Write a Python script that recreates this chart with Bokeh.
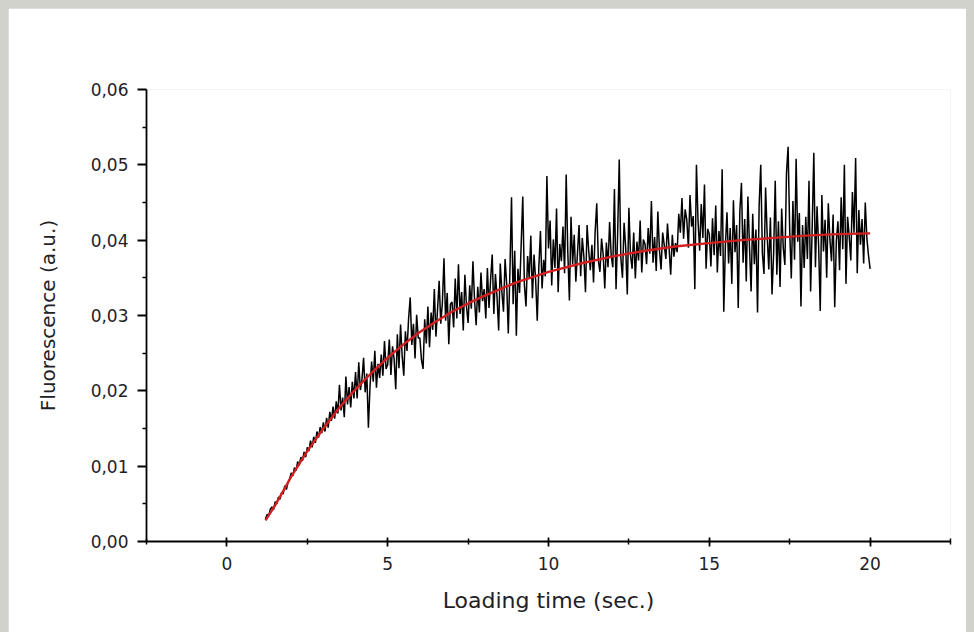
import numpy as np
from bokeh.plotting import figure
from bokeh.layouts import column
from bokeh.models import FixedTicker, Range1d
from bokeh.embed import file_html
from bokeh.resources import INLINE

# ---- data (fluorescence in units of 1e-3 a.u.) ----
t_start = 1.2      # s, first sample
t_step = 0.05      # s, sampling interval
fluorescence_milli = [
    3.0, 3.6, 3.4, 4.3, 4.6, 4.2, 5.3, 5.0, 5.9, 5.6, 6.5, 6.3, 7.4, 6.9, 7.9, 8.3,
    9.1, 8.7, 9.8, 9.4, 10.6, 10.1, 11.2, 10.7, 11.9, 11.2, 12.5, 12.0, 13.4, 12.5, 13.9, 13.1, 14.6, 13.8, 15.2, 14.4,
    15.8, 14.6, 16.4, 15.1, 17.2, 16.0, 17.9, 16.3, 18.6, 17.0, 20.8, 17.4, 19.1, 16.5, 21.9, 18.2, 20.5, 17.8, 21.2, 19.0,
    22.5, 19.0, 23.8, 20.1, 21.5, 24.4, 19.8, 22.3, 15.1, 20.6, 23.9, 21.2, 25.3, 20.4, 23.6, 21.7, 24.8, 22.0, 26.6, 22.9,
    23.5, 26.8, 22.1, 25.9, 24.2, 20.2, 27.5, 23.0, 28.8, 24.6, 22.0, 27.9, 25.3, 29.6, 32.4, 26.1, 28.9, 24.3, 30.1, 27.0,
    27.0, 24.1, 22.9, 29.5, 26.3, 31.2, 25.8, 30.4, 28.1, 33.5, 27.2, 30.8, 34.6, 28.9, 31.7, 37.6, 29.3, 33.0, 26.2, 31.5,
    31.8, 28.4, 34.9, 29.6, 36.8, 30.2, 33.1, 28.0, 35.4, 31.2, 29.0, 34.0, 30.9, 37.2, 32.1, 28.7, 33.8, 30.4, 35.7, 31.9,
    33.5, 29.6, 36.3, 31.0, 34.8, 38.1, 30.2, 35.5, 32.4, 28.0, 36.9, 33.2, 30.5, 37.5, 34.1, 27.6, 35.8, 45.7, 31.5, 38.6,
    27.3, 36.2, 33.0, 39.4, 45.8, 34.1, 31.2, 37.9, 35.0, 40.6, 32.3, 38.1, 34.7, 29.3, 36.5, 41.2, 33.6, 37.4, 35.2, 48.5,
    38.9, 42.6, 34.0, 40.1, 36.3, 44.2, 33.1, 39.5, 37.2, 41.8, 35.6, 48.7, 38.4, 32.0, 43.1, 36.8, 40.7, 34.5, 38.2, 42.0,
    35.2, 40.3, 37.8, 33.1, 42.0, 38.6, 36.0, 39.4, 34.4, 41.1, 44.9, 37.3, 35.8, 40.2, 38.1, 33.6, 39.7, 36.4, 42.4, 37.9,
    36.4, 46.8, 33.5, 40.9, 50.7, 37.6, 35.0, 42.3, 39.1, 32.8, 44.3, 38.0, 36.2, 41.0, 34.9, 39.8, 37.3, 42.6, 35.7, 40.1,
    39.5, 36.8, 41.6, 38.2, 45.2, 37.0, 40.4, 35.9, 43.8, 38.7, 36.1, 41.0, 39.3, 37.5, 42.2, 38.9, 35.4, 40.7, 37.8, 39.6,
    38.4, 43.5, 41.0, 45.6, 40.2, 44.1, 42.7, 39.0, 46.0, 41.8, 43.2, 33.5, 50.0, 42.5, 38.6, 44.8, 40.3, 47.4, 36.2, 41.5,
    40.8, 36.5, 42.9, 38.0, 44.6, 35.7, 41.2, 37.9, 49.4, 30.5, 39.3, 43.7, 36.9, 41.6, 34.2, 45.3, 38.4, 42.0, 31.0, 43.9,
    47.6, 37.0, 42.8, 34.5, 45.8, 39.1, 33.2, 43.5, 36.8, 41.4, 30.4, 44.7, 50.0, 38.3, 35.5, 47.0, 40.6, 36.1, 43.0, 32.8,
    38.2, 47.9, 35.4, 42.5, 33.8, 44.2, 39.0, 36.7, 48.9, 52.4, 41.3, 34.9, 45.2, 37.4, 50.8, 39.8, 43.6, 31.2, 42.0, 36.3,
    43.1, 37.5, 47.9, 33.2, 41.8, 51.6, 36.4, 44.5, 39.2, 30.6, 46.0, 38.5, 42.7, 35.0, 44.9, 40.1, 37.2, 43.4, 31.1, 39.9,
    42.5, 36.0, 45.7, 38.8, 50.0, 34.2, 43.1, 40.5, 37.3, 46.4, 41.0, 50.9, 35.6, 44.0, 39.4, 42.8, 36.9, 45.0, 40.2, 38.0, 36.2,
]

fit_time = [1.2, 1.5, 2, 2.5, 3, 3.5, 4, 4.5, 5, 5.5, 6, 6.5, 7, 7.5, 8, 8.5, 9, 9.5,
            10, 11, 12, 13, 14, 15, 16, 17, 18, 19, 20]
fit_milli = [2.8, 4.8, 8.6, 12.0, 15.0, 17.8, 20.2, 22.4, 24.4, 26.2, 27.8, 29.2, 30.5,
             31.6, 32.6, 33.5, 34.4, 35.1, 35.8, 36.9, 37.85, 38.6, 39.2, 39.6, 40.0,
             40.3, 40.6, 40.8, 40.9]

x_ticks = [0, 5, 10, 15, 20]
x_minor_ticks = [-2.5, 2.5, 7.5, 12.5, 17.5, 22.5]
y_ticks = [0.0, 0.01, 0.02, 0.03, 0.04, 0.05, 0.06]
y_tick_labels = ["0,00", "0,01", "0,02", "0,03", "0,04", "0,05", "0,06"]
y_minor_ticks = [0.005, 0.015, 0.025, 0.035, 0.045, 0.055]

time = t_start + t_step * np.arange(len(fluorescence_milli))
fluor = np.array(fluorescence_milli) * 1e-3
fit_y = np.array(fit_milli) * 1e-3

FONT = "DejaVu Sans"
TXT = "#1e2226"
PAGE_BG = "#d2d2cc"

p = figure(width=958, height=624, output_backend="svg", toolbar_location=None,
           x_range=Range1d(-2.5, 22.5), y_range=Range1d(0, 0.06),
           min_border_left=138, min_border_right=16, min_border_top=81,
           min_border_bottom=91)
p.margin = (8, 8, 0, 8)
p.background_fill_color = "white"
p.border_fill_color = "white"
p.outline_line_color = None
p.grid.visible = False

p.line(time, fluor, line_color="black", line_width=1.5)
p.line(fit_time, fit_y, line_color="#d21f1f", line_width=2.4)

# x axis
xa = p.xaxis[0]
xa.ticker = FixedTicker(ticks=x_ticks, minor_ticks=x_minor_ticks)
xa.axis_label = "Loading time (sec.)"
xa.axis_label_text_font = FONT
xa.axis_label_text_font_size = "22px"
xa.axis_label_text_font_style = "normal"
xa.axis_label_text_color = TXT
xa.axis_label_standoff = 15
xa.major_label_text_font = FONT
xa.major_label_text_font_size = "17px"
xa.major_label_text_color = TXT
xa.major_label_standoff = 10
xa.axis_line_color = "black"
xa.axis_line_width = 1.8
xa.major_tick_line_color = "black"
xa.major_tick_line_width = 1.8
xa.major_tick_in = 4
xa.major_tick_out = 5
xa.minor_tick_line_color = "black"
xa.minor_tick_line_width = 1.5
xa.minor_tick_in = 3
xa.minor_tick_out = 3

# y axis
ya = p.yaxis[0]
ya.ticker = FixedTicker(ticks=y_ticks, minor_ticks=y_minor_ticks)
ya.major_label_overrides = dict(zip(y_ticks, y_tick_labels))
ya.axis_label = "Fluorescence (a.u.)"
ya.axis_label_text_font = FONT
ya.axis_label_text_font_size = "20px"
ya.axis_label_text_font_style = "normal"
ya.axis_label_text_color = TXT
ya.axis_label_standoff = 28
ya.major_label_text_font = FONT
ya.major_label_text_font_size = "17px"
ya.major_label_text_color = TXT
ya.major_label_standoff = 9
ya.axis_line_color = "black"
ya.axis_line_width = 1.8
ya.major_tick_line_color = "black"
ya.major_tick_line_width = 1.8
ya.major_tick_in = 0
ya.major_tick_out = 9
ya.minor_tick_line_color = "black"
ya.minor_tick_line_width = 1.5
ya.minor_tick_in = 0
ya.minor_tick_out = 4

root = column(p, styles={"background-color": PAGE_BG})

html = file_html(root, INLINE)
html = html.replace("</head>", "<style>html, body { background-color: %s; }</style></head>" % PAGE_BG, 1)
open("out.html", "w").write(html)
